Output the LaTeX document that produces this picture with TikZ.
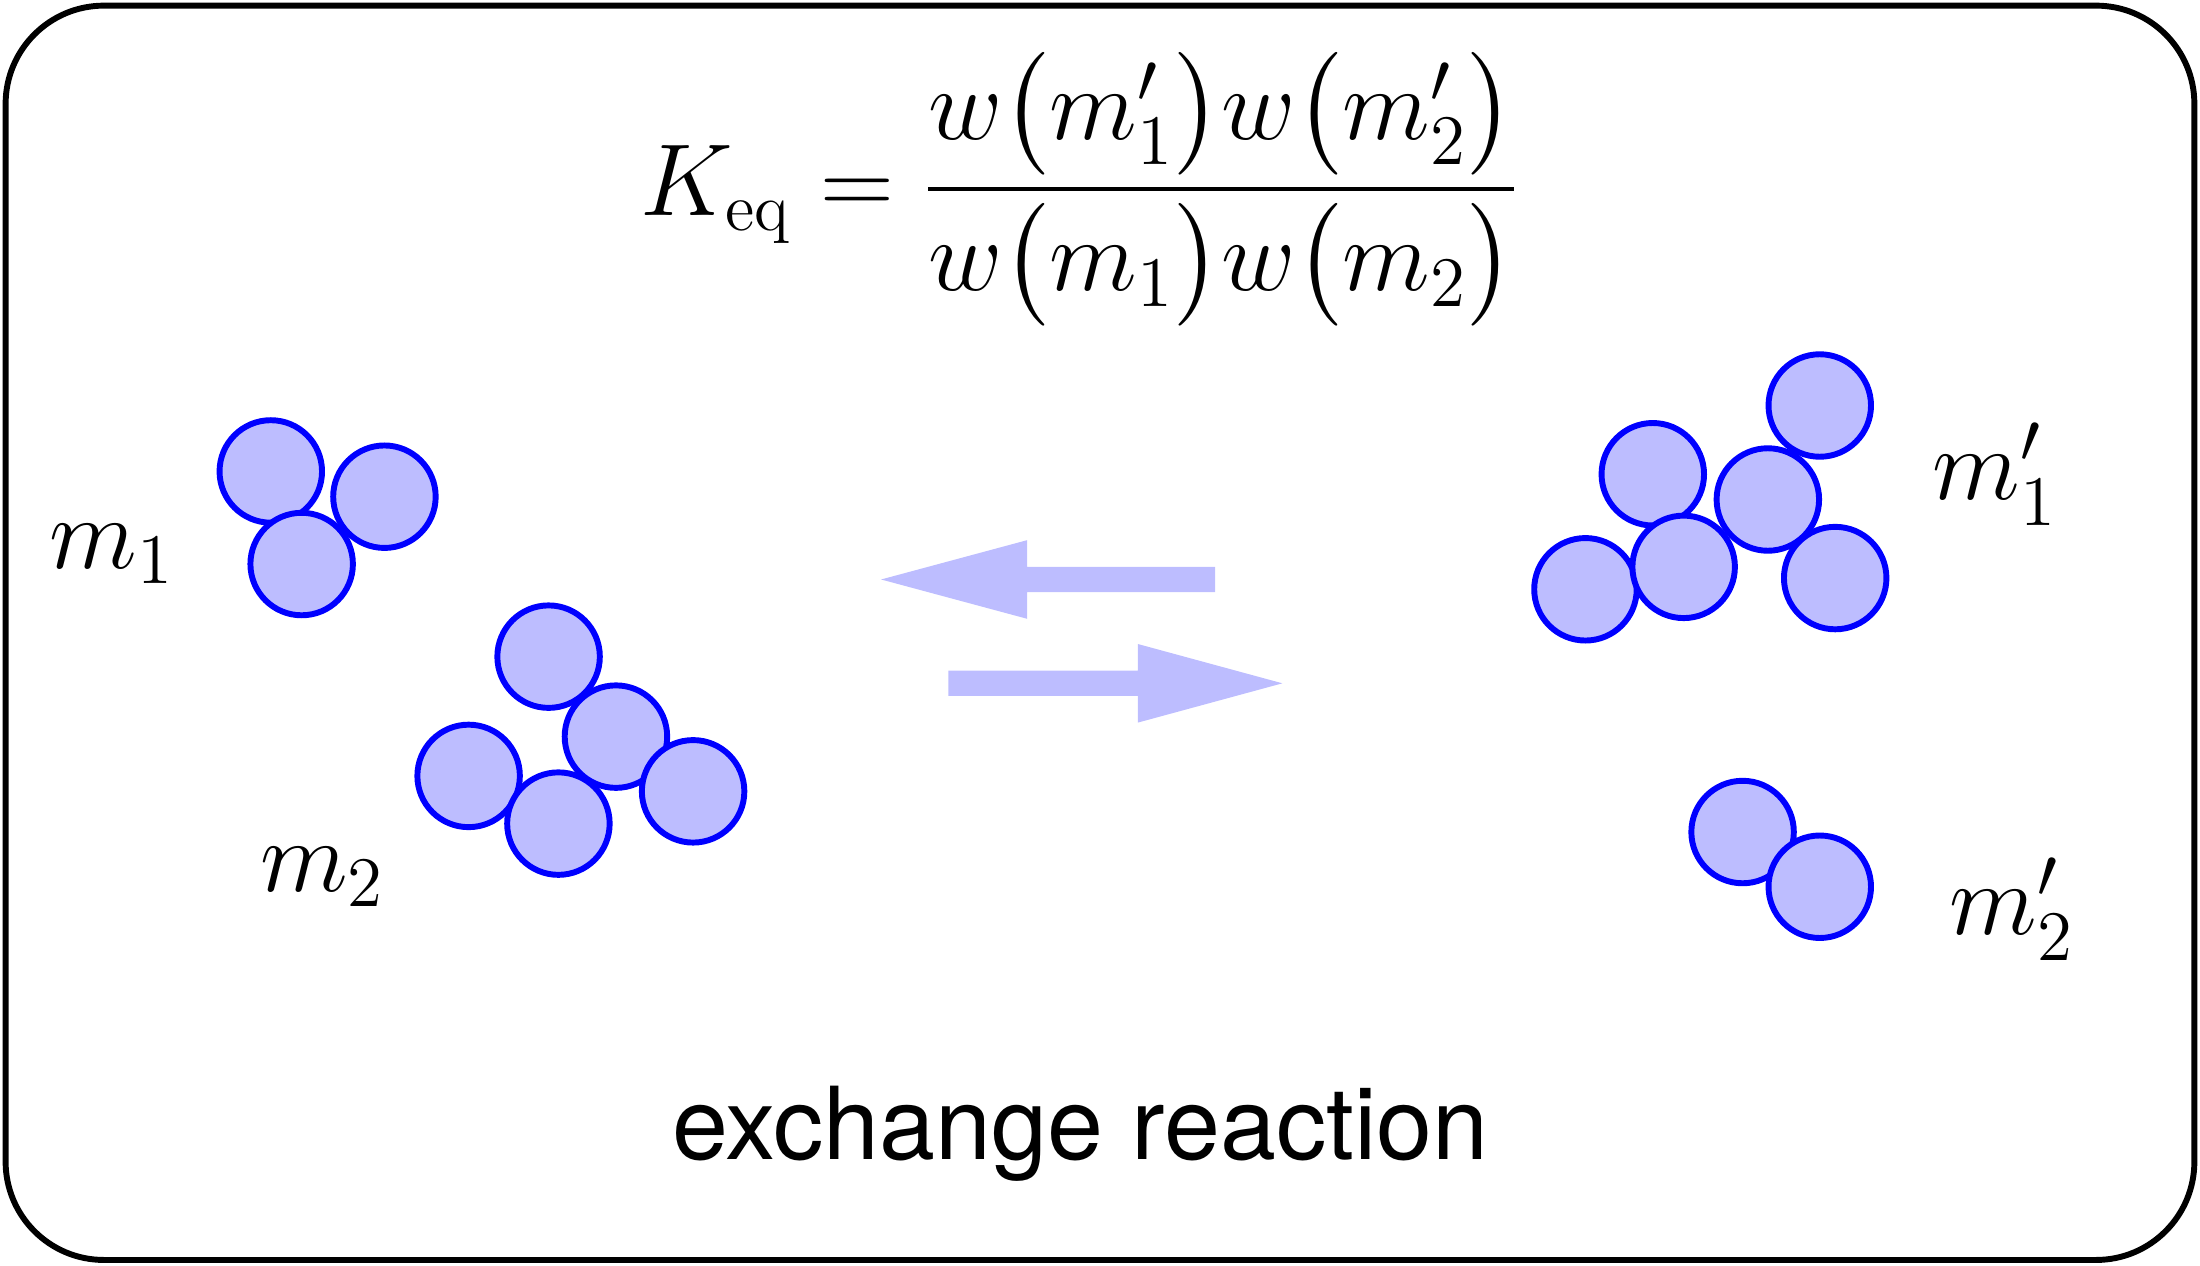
\documentclass[tikz,border=0pt]{standalone}
\usepackage{amsmath}
\usepackage{fontspec}
\setsansfont{TeX Gyre Heros}
\usetikzlibrary{positioning}
\definecolor{ballfill}{RGB}{189,189,255}
\begin{document}
\begin{tikzpicture}[x=0.01cm,y=-0.01cm,
      ball/.style={circle,draw=blue,fill=ballfill,line width=1.2pt,
        minimum size=0.73cm,inner sep=0pt},
      label/.style={font=\fontsize{20}{24}\selectfont},
      flow/.style={fill=ballfill,draw=none}]
    \useasboundingbox (0,0) rectangle (1568,902);
    \draw[line width=1.2pt,rounded corners=0.7cm] (4,4) rectangle (1564,898);
    % equilibrium constant
    \node[font=\fontsize{19.4}{23}\selectfont] (keq) at (770,135)
      {$K_{\mathrm{eq}} = \dfrac{w\big(m_1'\big)w\big(m_2'\big)}{w\big(m_1\big)w\big(m_2\big)}$};
    % clusters on the left
    \foreach \x/\y [count=\i] in {193/336,274/354,215/402}
      \node[ball] (a\i) at (\x,\y) {};
    \foreach \x/\y [count=\i] in {391/468,439/525,334/553,398/587,494/564}
      \node[ball] (b\i) at (\x,\y) {};
    % clusters on the right
    \foreach \x/\y [count=\i] in {1297/289,1178/338,1130/420,1260/356,1200/404,1308/412}
      \node[ball] (c\i) at (\x,\y) {};
    \foreach \x/\y [count=\i] in {1242/593,1297/632}
      \node[ball] (d\i) at (\x,\y) {};
    \node[label] (m1) at (80,395) {$m_1$};
    \node[label] (m2) at (230,625) {$m_2$};
    \node[label] (m1p) at (1422,338) {$m_1'$};
    \node[label] (m2p) at (1434,648) {$m_2'$};
    % reaction arrows
    \fill[flow] (866,404) -- (732,404) -- (732,385) -- (628,413) -- (732,441)
      -- (732,422) -- (866,422) -- cycle;
    \fill[flow] (676,478) -- (811,478) -- (811,459) -- (914,487) -- (811,515)
      -- (811,496) -- (676,496) -- cycle;
    \node[font=\sffamily\fontsize{20.4}{25}\selectfont] (title) at (770,808) {exchange reaction};
\end{tikzpicture}
\end{document}
